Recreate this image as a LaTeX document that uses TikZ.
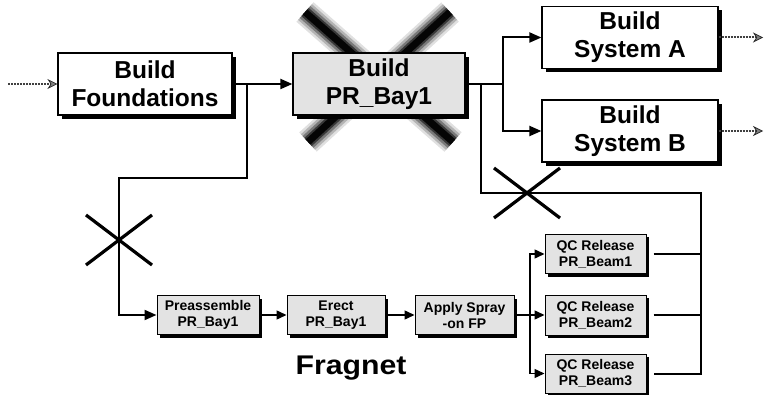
\documentclass[tikz,border=0pt]{standalone}
\usepackage{fontspec}
\setmainfont{Liberation Sans}
\usetikzlibrary{arrows.meta,shadows,calc}

\tikzset{
  bigtask/.style={draw=black, line width=1.2pt, fill=white, minimum height=62pt,
    align=center, inner sep=0pt, font=\bfseries\fontsize{24.5}{28}\selectfont,
    drop shadow={shadow xshift=4pt, shadow yshift=-4pt, fill=black, opacity=1}},
  graytask/.style={bigtask, fill=black!11},
  smalltask/.style={draw=black, line width=1pt, fill=black!11, minimum height=39pt,
    minimum width=101pt, align=center, inner sep=0pt,
    font=\bfseries\fontsize{14}{16}\selectfont,
    drop shadow={shadow xshift=3pt, shadow yshift=-3pt, fill=black, opacity=1}},
  link/.style={line width=2pt, black},
  thinlink/.style={line width=1.4pt, black},
  bigarrow/.style={-{Triangle[length=12pt,width=10pt]}},
  smallarrow/.style={-{Triangle[length=10pt,width=9pt]}},
  openflow/.style={line width=2pt, black!75, densely dotted,
    -{Stealth[length=10pt,width=10pt,fill=black!50,color=black!85,line width=0.7pt]}},
  cutmark/.style={line width=3.2pt, black},
  haze/.style={line width=#1, black},
}

\begin{document}
\begin{tikzpicture}[x=1pt, y=-1pt]
  \useasboundingbox (0,0) rectangle (765,395);

  % blurred cross behind the cancelled activity
  \foreach \w/\o in {26pt/0.12, 21pt/0.2, 16pt/0.32, 11pt/0.55, 7pt/0.9} {
    \draw[haze=\w, opacity=\o] (305,12) -- (453,142);
    \draw[haze=\w, opacity=\o] (450,12) -- (308,142);
  }

  % main network
  \node[bigtask, minimum width=174pt] (found) at (145,84) {Build\\Foundations};
  \node[graytask, minimum width=172pt] (bay) at (379,84) {Build\\PR\_Bay1};
  \node[bigtask, minimum width=176pt] (sysA) at (630,37.5) {Build\\System A};
  \node[bigtask, minimum width=176pt] (sysB) at (630,131) {Build\\System B};

  % fragnet
  \node[smalltask, minimum width=102pt] (pre) at (208,315) {Preassemble\\PR\_Bay1};
  \node[smalltask, minimum width=98pt] (erect) at (336,315) {Erect\\PR\_Bay1};
  \node[smalltask, minimum width=99pt] (spray) at (464.5,315) {Apply Spray\\-on FP};
  \node[smalltask] (qc1) at (595.5,254) {QC Release\\PR\_Beam1};
  \node[smalltask, minimum height=40pt] (qc2) at (595.5,315) {QC Release\\PR\_Beam2};
  \node[smalltask] (qc3) at (595.5,373.5) {QC Release\\PR\_Beam3};

  \node[font=\bfseries\fontsize{27}{30}\selectfont, xscale=1.12] (title) at (351,368) {Fragnet};

  % junction points
  \coordinate (start) at (8,84);
  \coordinate (j1) at (247,84);
  \coordinate (j2) at (119,178);
  \coordinate (j3) at (503,84);
  \coordinate (j4) at (481,84);
  \coordinate (j5) at (701,193);
  \coordinate (j6) at (530,315);
  \coordinate (endA) at (763,37.5);
  \coordinate (endB) at (763,131);

  % external flows
  \draw[openflow] (start) -- (found.west);
  \draw[openflow] (sysA.east) -- (endA);
  \draw[openflow] (sysB.east) -- (endB);

  % main links
  \draw[link, bigarrow] (found.east) -- (bay.west);
  \draw[link] (bay.east) -- (j3);
  \draw[link, bigarrow] (j3) |- (sysA.west);
  \draw[link, bigarrow] (j3) |- (sysB.west);

  % links tying the fragnet in
  \draw[link, bigarrow] (j1) |- (j2) |- (pre.west);
  \draw[link] (j4) |- (j5) |- ($(qc3.east)+(7,0)$);
  \draw[link] ($(qc1.east)+(7,0)$) -- (qc1.east -| j5);
  \draw[link] ($(qc2.east)+(7,0)$) -- (qc2.east -| j5);

  % fragnet links
  \draw[thinlink, smallarrow] (pre) -- (erect);
  \draw[thinlink, smallarrow] (erect) -- (spray);
  \draw[thinlink, smallarrow] (spray) -- (qc2);
  \draw[thinlink, smallarrow] (j6) |- (qc1.west);
  \draw[thinlink, smallarrow] (j6) |- (qc3.west);

  % cut marks on removed links
  \draw[cutmark] (86,215) -- (152,265);
  \draw[cutmark] (152,215) -- (86,265);
  \draw[cutmark] (494,168) -- (560,218);
  \draw[cutmark] (560,168) -- (494,218);
\end{tikzpicture}
\end{document}
